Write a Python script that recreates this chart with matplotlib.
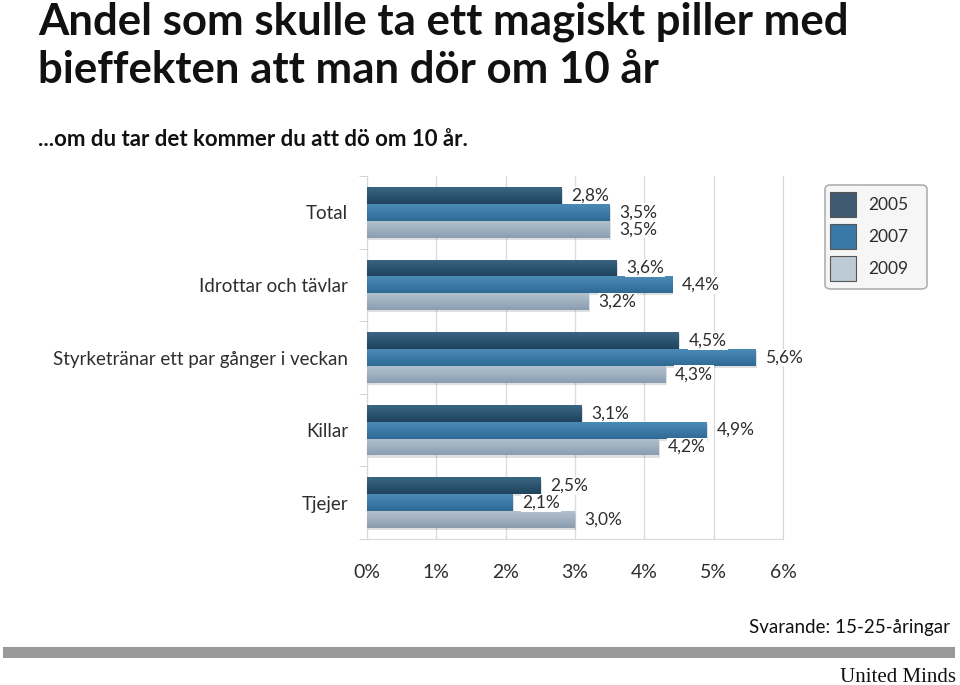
import numpy as np
import matplotlib.pyplot as plt
from matplotlib.patches import FancyBboxPatch, Rectangle
from matplotlib.colors import LinearSegmentedColormap

# data
kategorier = ["Total", "Idrottar och tävlar", "Styrketränar ett par gånger i veckan", "Killar", "Tjejer"]
ar = ["2005", "2007", "2009"]
v2005 = [2.8, 3.6, 4.5, 3.1, 2.5]
v2007 = [3.5, 4.4, 5.6, 4.9, 2.1]
v2009 = [3.5, 3.2, 4.3, 4.2, 3.0]
xticks = [0, 1, 2, 3, 4, 5, 6]

# farger (topp, botten) for gradienten i staplarna
farger = [("#3a6683", "#1f435d"), ("#4a8bb6", "#2f6a95"), ("#b3c1cd", "#8a9db0")]
legend_farg = ["#3f5a70", "#3a78a7", "#bccbd6"]

FONT = "Lato"
txtfarg = "#2e2e2e"

fig = plt.figure(figsize=(9.6, 6.85), dpi=100)
ax = fig.add_axes([367/960, 1-539/685, (783-367)/960, (539-176)/685])

serier = [v2005, v2007, v2009]
h = 0.232
y = np.arange(len(kategorier))
for j, vals in enumerate(serier):
    yy = y - h + j*h
    bars = ax.barh(yy, vals, height=h, color=farger[j][1], zorder=2)
    cmap = LinearSegmentedColormap.from_list("g%d" % j, [farger[j][0], farger[j][1]])
    for b, v, yc in zip(bars, vals, yy):
        # skugga under stapeln
        ax.add_patch(Rectangle((0, yc - h/2 + 0.03), v + 0.02, h, color="#000000",
                               alpha=0.12, zorder=1, lw=0))
        grad = np.linspace(0, 1, 50).reshape(-1, 1)
        im = ax.imshow(grad, cmap=cmap, aspect="auto", zorder=3,
                       extent=(0, v, yc + h/2, yc - h/2))
        im.set_clip_path(b)
        ax.annotate(f"{v:.1f}%".replace(".", ","), (v, yc), xytext=(7, 0),
                    textcoords="offset points", va="center", ha="left",
                    fontsize=12.5, family=FONT, color=txtfarg, zorder=5,
                    bbox=dict(boxstyle="square,pad=0.05", fc="white", ec="none"))

ax.set_xlim(0, 6)
ax.set_ylim(4.5, -0.5)
ax.set_xticks(xticks)
ax.set_xticklabels([f"{t}%" for t in xticks], fontsize=14, family=FONT, color=txtfarg)
ax.tick_params(axis="x", length=0, pad=18)
ax.set_yticks(y)
ax.set_yticklabels(kategorier, fontsize=13.5, family=FONT, color=txtfarg)
ax.tick_params(axis="y", which="major", length=0, pad=13.5)
ax.set_yticks(np.arange(-0.5, 5, 1), minor=True)
ax.tick_params(axis="y", which="minor", length=6, color="#cccccc")
ax.grid(axis="x", color="#dddddd", lw=1, zorder=0)
ax.set_axisbelow(True)
for s in ["left", "bottom", "right"]:
    ax.spines[s].set_color("#d8d8d8")
ax.spines["top"].set_visible(False)

# titel
fig.text(38/960, 1-2/685, "Andel som skulle ta ett magiskt piller med\nbieffekten att man dör om 10 år",
         fontsize=31.5, fontweight="bold", family=FONT, va="top", ha="left",
         linespacing=1.22, color="#111111")
fig.text(38/960, 1-140/685, "...om du tar det kommer du att dö om 10 år.",
         fontsize=16, fontweight="bold", family=FONT, va="center", ha="left", color="#111111")

# legend
W, H = 960, 685
fig.patches.append(FancyBboxPatch((825/W, 1-289/H), 102/W, 104/H,
                                  boxstyle="round,pad=0,rounding_size=0.006",
                                  transform=fig.transFigure, fc="#f6f6f6", ec="#b0b0b0", lw=1.2))
for i, (a, c) in enumerate(zip(ar, legend_farg)):
    top = 192 + i*32
    fig.patches.append(Rectangle((830/W, 1-(top+25)/H), 26/W, 25/H, transform=fig.transFigure,
                                 fc=c, ec="#555555", lw=0.8))
    fig.text(868/W, 1-(top+13)/H, a, fontsize=12.5, family=FONT,
             color=txtfarg, va="center", ha="left")

# fot
fig.text(950/W, 1-628/H, "Svarande: 15-25-åringar", fontsize=13.5, family=FONT, color="#111111",
         va="center", ha="right")
fig.patches.append(Rectangle((3/W, 1-658/H), 952/W, 11/H, transform=fig.transFigure,
                             fc="#9a9a9a", ec="none"))
fig.text(956/W, 1-677/H, "United Minds", fontsize=15, family="Liberation Serif", color="#111111",
         va="center", ha="right")

fig.savefig("out.png", dpi=100)
